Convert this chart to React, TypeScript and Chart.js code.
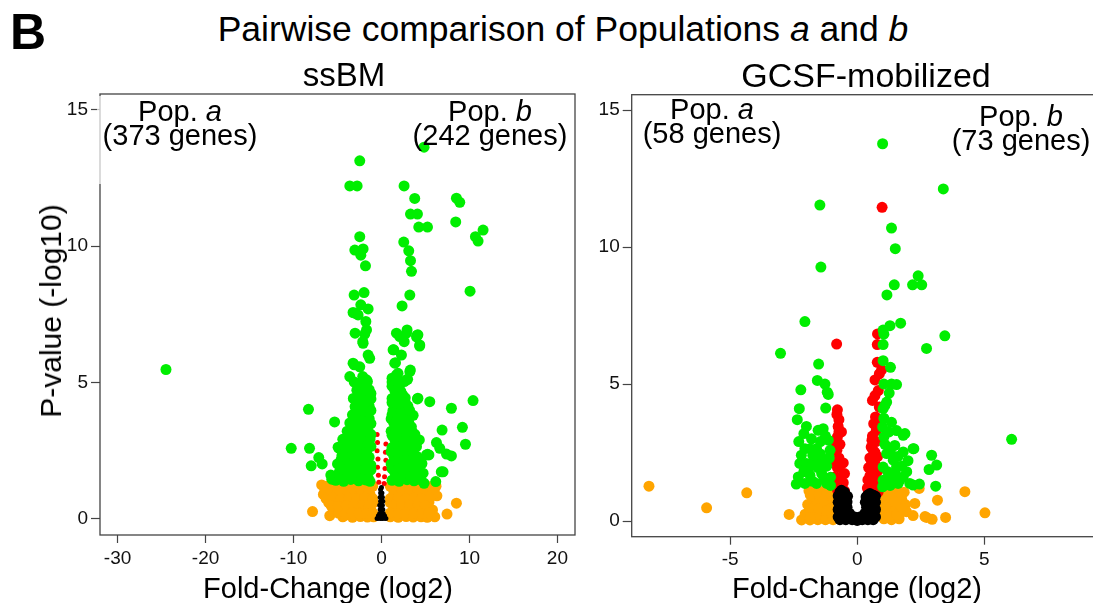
import React, { useEffect, useRef } from "react";
import { Chart, registerables } from "chart.js";

Chart.register(...registerables);

type Pt = [number, number];

const FONT = '"Liberation Sans", Arial, Helvetica, sans-serif';

// ---------- axis ticks ----------
const ssbmXTicks = [-30, -20, -10, 0, 10, 20];
const gcsfXTicks = [-5, 0, 5];
const yTickValues = [0, 5, 10, 15];

// ---------- ssBM panel (log2 fold change, -log10 p) ----------
const ssbmGreen: Pt[] = [
  [-24.5, 5.48],
  [-2.47, 13.13], [-3.6, 12.21], [-2.77, 12.21], [2.57, 12.21], [3.78, 11.75], [3.3, 11.18], [4.09, 11.18],
  [4.24, 10.7], [5.23, 10.7], [8.52, 11.76], [8.9, 11.61], [8.44, 10.89], [11.55, 10.59], [10.68, 10.35],
  [10.98, 10.19], [10.07, 8.35], [4.84, 13.63],
  [-2.47, 10.35], [-3.03, 9.86], [-2.09, 9.9], [-2.35, 9.67], [-1.82, 9.28],
  [2.53, 10.15], [3.1, 9.83], [3.3, 9.47], [3.41, 9.08], [3.22, 8.21], [2.34, 7.81],
  [-3.11, 8.21], [-1.98, 8.3], [-2.35, 7.85], [-1.52, 7.7], [-3.23, 7.57], [-2.66, 7.48], [-1.78, 7.24],
  [-1.7, 6.93], [-3.0, 6.81], [-1.9, 6.78], [-2.98, 7.54],
  [2.08, 6.69], [2.91, 6.93], [4.05, 6.74], [1.7, 6.81], [2.84, 6.81], [3.98, 6.68], [4.35, 6.38], [1.32, 6.2],
  [2.27, 6.01], [1.51, 5.71], [3.22, 5.4], [1.7, 5.28], [2.84, 5.1], [2.58, 6.5], [1.4, 6.2], [1.59, 5.73],
  [1.88, 5.34], [3.28, 5.46], [2.97, 5.12], [1.2, 5.16], [1.59, 4.79],
  [-2.09, 6.44], [-1.52, 6.01], [-3.23, 5.71], [-2.47, 5.58], [-3.6, 5.22], [-1.7, 5.1], [-1.34, 5.89],
  [-3.1, 5.65], [-2.13, 5.22], [-2.13, 6.5],
  [-8.3, 4.02], [-5.33, 3.56], [-10.26, 2.59], [-8.18, 2.59], [-7.13, 2.25], [-6.74, 2.02], [-7.99, 1.95],
  [-4.93, 2.63], [-5.76, 1.61], [-5.65, 1.46], [-4.78, 2.59],
  [5.49, 4.3], [4.09, 4.4], [7.95, 4.06], [10.41, 4.34], [6.89, 3.26], [9.2, 3.36], [9.55, 2.74], [6.25, 2.8],
  [6.63, 2.59], [7.95, 2.31], [7.39, 2.38], [7.0, 1.73], [6.17, 1.37], [3.98, 2.65], [5.11, 2.35], [4.16, 1.92],
  [4.73, 1.68], [5.39, 2.35], [4.84, 1.31], [5.24, 2.37], [6.8, 1.73], [4.14, 4.43], [4.34, 6.34], [4.14, 6.75],
  // dense left stream
  [-5.2, 1.42], [-4.3, 1.38], [-3.5, 1.45], [-2.6, 1.4], [-1.8, 1.43], [-1.3, 1.38],
  [-4.8, 1.72], [-3.9, 1.68], [-3.1, 1.75], [-2.2, 1.7], [-1.5, 1.73],
  [-5.0, 2.02], [-4.2, 1.98], [-3.4, 2.05], [-2.7, 2.0], [-1.9, 2.03], [-1.2, 1.97],
  [-4.5, 2.32], [-3.7, 2.28], [-2.9, 2.34], [-2.1, 2.3], [-1.4, 2.27],
  [-4.1, 2.62], [-3.3, 2.58], [-2.5, 2.64], [-1.7, 2.6], [-1.2, 2.66],
  [-4.4, 2.92], [-3.6, 2.88], [-2.8, 2.95], [-2.0, 2.9], [-1.3, 2.93],
  [-3.9, 3.22], [-3.1, 3.18], [-2.3, 3.24], [-1.5, 3.2],
  [-3.6, 3.52], [-2.7, 3.48], [-1.9, 3.55], [-1.2, 3.5],
  [-3.3, 3.82], [-2.5, 3.78], [-1.6, 3.84],
  [-3.0, 4.12], [-2.2, 4.08], [-1.4, 4.14],
  [-3.2, 4.42], [-2.4, 4.38], [-1.7, 4.45], [-1.2, 4.4],
  [-2.8, 4.72], [-2.0, 4.68], [-1.4, 4.74],
  [-3.1, 5.02], [-2.3, 4.98], [-1.6, 5.04],
  [-4.7, 1.55], [-3.9, 1.52], [-3.0, 1.58], [-2.2, 1.55], [-1.5, 1.5],
  [-4.5, 1.85], [-3.6, 1.88], [-2.7, 1.85], [-1.9, 1.82], [-1.2, 1.8],
  [-4.6, 2.17], [-3.8, 2.15], [-3.0, 2.18], [-2.3, 2.15], [-1.6, 2.12],
  [-4.1, 2.47], [-3.2, 2.45], [-2.4, 2.5], [-1.7, 2.45],
  [-3.8, 2.78], [-2.9, 2.75], [-2.2, 2.8], [-1.5, 2.77],
  [-3.5, 3.07], [-2.6, 3.05], [-1.8, 3.08], [-1.2, 3.1],
  [-3.2, 3.37], [-2.4, 3.35], [-1.6, 3.38],
  [-2.9, 3.67], [-2.1, 3.65], [-1.4, 3.68],
  [-2.8, 3.97], [-1.9, 3.95], [-1.2, 3.98],
  [-2.6, 4.27], [-1.9, 4.25],
  [-2.5, 4.57], [-1.7, 4.55], [-1.2, 4.6],
  [-2.6, 4.87], [-1.8, 4.85],
  // dense right stream
  [1.2, 1.42], [2.0, 1.38], [2.9, 1.44], [3.7, 1.4], [4.5, 1.43],
  [1.5, 1.72], [2.4, 1.68], [3.3, 1.74], [4.1, 1.7],
  [1.1, 2.02], [1.9, 1.98], [2.8, 2.04], [3.6, 2.0], [4.6, 2.03],
  [1.4, 2.32], [2.3, 2.28], [3.2, 2.34], [4.0, 2.3],
  [1.2, 2.62], [2.0, 2.58], [2.9, 2.64], [3.5, 2.6],
  [1.5, 2.92], [2.4, 2.88], [3.2, 2.94], [4.3, 2.9],
  [1.1, 3.22], [1.9, 3.18], [2.7, 3.24], [3.5, 3.2],
  [1.4, 3.52], [2.3, 3.48], [3.1, 3.54],
  [1.2, 3.82], [2.0, 3.78], [2.8, 3.84], [3.6, 3.8],
  [1.5, 4.12], [2.3, 4.08], [3.0, 4.14],
  [1.2, 4.42], [1.9, 4.38], [2.7, 4.44],
  [1.5, 4.72], [2.2, 4.68],
  [1.2, 5.02], [1.9, 4.98], [2.6, 5.04],
  [1.6, 1.55], [2.5, 1.52], [3.3, 1.58], [4.2, 1.55],
  [1.2, 1.85], [2.0, 1.88], [2.9, 1.85], [3.8, 1.82],
  [1.5, 2.17], [2.4, 2.15], [3.3, 2.18], [4.2, 2.15],
  [1.1, 2.47], [1.9, 2.45], [2.7, 2.5], [3.6, 2.45],
  [1.6, 2.78], [2.5, 2.75], [3.3, 2.8],
  [1.2, 3.07], [2.0, 3.05], [2.9, 3.08], [3.8, 3.1],
  [1.6, 3.37], [2.6, 3.35], [3.4, 3.38],
  [1.1, 3.67], [1.8, 3.65], [2.6, 3.68],
  [1.3, 3.97], [2.2, 3.95], [3.2, 3.98],
  [1.2, 4.27], [2.0, 4.25], [2.7, 4.27],
  [1.6, 4.57], [2.4, 4.55],
  [1.2, 4.87], [2.0, 4.85],
];

const ssbmOrange: Pt[] = [
  [8.52, 0.58], [7.45, 0.18], [6.06, 0.08], [-7.84, 0.27], [-5.88, 0.12], [-3.98, 0.15], [-6.8, 1.25],
  [-6.5, 0.95], [6.2, 1.2], [6.3, 0.85],
  [-6.2, 1.2], [-5.4, 1.18], [-4.5, 1.22], [-3.6, 1.19], [-2.7, 1.21], [-1.8, 1.18], [-1.0, 1.2],
  [-6.6, 0.9], [-5.8, 0.92], [-4.9, 0.88], [-4.0, 0.91], [-3.1, 0.89], [-2.2, 0.92], [-1.3, 0.9],
  [-6.0, 0.6], [-5.1, 0.62], [-4.3, 0.58], [-3.4, 0.61], [-2.5, 0.59], [-1.6, 0.62], [-0.9, 0.6],
  [-5.5, 0.35], [-4.7, 0.33], [-3.7, 0.36], [-2.9, 0.34], [-2.0, 0.36], [-1.2, 0.33],
  [-4.4, 0.08], [-3.3, 0.06], [-2.4, 0.09], [-1.6, 0.07], [-0.9, 0.08],
  [-5.8, 1.05], [-5.0, 1.07], [-4.1, 1.04], [-3.2, 1.06], [-2.3, 1.05], [-1.4, 1.07],
  [-6.3, 0.75], [-5.5, 0.77], [-4.6, 0.74], [-3.7, 0.76], [-2.8, 0.75], [-1.9, 0.77], [-1.0, 0.75],
  [-5.7, 0.48], [-4.9, 0.47], [-4.0, 0.49], [-3.1, 0.47], [-2.2, 0.48], [-1.4, 0.47],
  [-4.9, 0.22], [-4.1, 0.2], [-3.3, 0.22], [-2.5, 0.21], [-1.7, 0.2], [-1.0, 0.22],
  [1.0, 1.2], [1.9, 1.18], [2.8, 1.21], [3.7, 1.19], [4.6, 1.22], [5.5, 1.18],
  [1.4, 0.9], [2.3, 0.92], [3.2, 0.88], [4.1, 0.91], [5.0, 0.89], [5.9, 0.92],
  [1.0, 0.6], [1.9, 0.62], [2.8, 0.58], [3.7, 0.61], [4.6, 0.59], [5.4, 0.62],
  [1.4, 0.35], [2.3, 0.33], [3.2, 0.36], [4.1, 0.34], [5.0, 0.36], [5.8, 0.33],
  [1.0, 0.08], [1.9, 0.06], [2.8, 0.09], [3.6, 0.07], [4.5, 0.08], [5.2, 0.06],
  [1.4, 1.05], [2.3, 1.07], [3.2, 1.04], [4.1, 1.06], [5.0, 1.05], [5.8, 1.07],
  [1.0, 0.75], [1.9, 0.77], [2.8, 0.74], [3.7, 0.76], [4.6, 0.75], [5.5, 0.77],
  [1.4, 0.48], [2.3, 0.47], [3.2, 0.49], [4.1, 0.47], [5.0, 0.48],
  [1.0, 0.22], [1.9, 0.2], [2.8, 0.22], [3.7, 0.21], [4.6, 0.2], [5.4, 0.22],
];

const ssbmRed: Pt[] = [
  [-0.5, 3.1], [-0.45, 2.8], [-0.5, 2.5], [-0.4, 2.2], [-0.45, 1.9], [-0.35, 1.6], [-0.3, 1.35],
  [0.5, 2.75], [0.45, 2.45], [0.5, 2.15], [0.4, 1.85], [0.35, 1.55], [0.3, 1.3],
];

const ssbmBlack: Pt[] = [
  [-0.5, 0.02], [-0.3, 0.03], [-0.1, 0.02], [0.1, 0.02], [0.3, 0.03], [0.5, 0.02],
  [-0.35, 0.12], [0.35, 0.12], [-0.2, 0.2], [0.0, 0.1], [0.2, 0.2], [-0.15, 0.35], [0.15, 0.35],
  [0.0, 0.3], [-0.2, 0.5], [0.1, 0.5], [-0.05, 0.45], [-0.1, 0.65], [0.15, 0.65], [-0.15, 0.8],
  [0.1, 0.8], [-0.1, 0.95], [0.05, 0.95], [-0.1, 1.08], [0.0, 1.15],
];

// ---------- GCSF-mobilized panel ----------
const gcsfGreen: Pt[] = [
  [1.0, 13.77], [3.39, 12.12], [-1.47, 11.53], [1.35, 10.69], [1.5, 9.94], [-1.43, 9.27], [2.4, 8.95],
  [2.18, 8.62], [2.54, 8.62], [1.46, 8.62], [1.17, 8.25], [-2.06, 7.28], [1.29, 7.13], [1.71, 7.22],
  [1.02, 6.97], [-3.02, 6.12], [3.45, 6.76], [2.73, 6.3], [1.05, 6.82], [1.02, 6.44], [-1.52, 5.73],
  [1.02, 5.85], [1.31, 5.61], [1.05, 5.0], [1.35, 5.0], [1.55, 4.98], [1.26, 4.67], [1.16, 4.34],
  [1.02, 4.1], [-1.57, 5.13], [-1.27, 5.0], [-1.18, 4.7], [-2.22, 4.79], [-2.28, 4.1], [-2.36, 3.7],
  [-1.24, 4.12], [-2.0, 3.45], [-2.1, 3.19], [-1.54, 3.31], [-1.34, 3.37], [6.08, 2.98], [-1.14, 4.62],
  [-1.14, 2.95], [-1.07, 2.58], [-2.06, 2.64], [-1.86, 2.64], [-1.6, 2.64], [-2.26, 2.1], [-2.0, 2.1],
  [-1.67, 2.22], [-1.34, 2.22], [-2.32, 1.61], [-1.86, 1.67], [-1.4, 1.73], [-2.06, 1.37], [-1.6, 1.37],
  [-1.2, 1.37], [-1.8, 3.0], [-1.45, 2.9], [-2.2, 2.4], [-1.2, 2.0], [-1.55, 1.95], [-1.9, 1.95],
  [-2.1, 1.8], [-1.3, 1.55], [-1.75, 1.45], [-1.05, 1.6], [-2.3, 2.9], [-1.25, 3.1], [-1.75, 2.4],
  [-1.45, 2.45], [-1.1, 2.3], [-2.4, 1.35], [-1.05, 1.3],
  [1.0, 3.43], [1.05, 3.07], [1.48, 2.76], [1.81, 3.13], [1.88, 3.19], [2.2, 2.64], [1.81, 2.52],
  [1.16, 2.46], [1.42, 2.22], [1.02, 1.97], [1.55, 1.97], [1.35, 1.61], [1.81, 1.61], [1.02, 1.49],
  [1.61, 1.37], [2.07, 1.37], [2.2, 1.31], [2.93, 2.4], [3.13, 2.04], [2.83, 1.88], [3.09, 1.27],
  [1.68, 1.49], [1.09, 4.22], [1.09, 2.8], [1.3, 2.55], [1.6, 2.35], [1.2, 1.8], [1.5, 1.75], [1.0, 1.25],
  [1.3, 1.3], [1.75, 2.0], [1.25, 3.25], [1.35, 3.6], [1.05, 3.75], [1.55, 3.3], [2.0, 2.2], [2.45, 1.35],
  [1.95, 1.8], [2.23, 2.64],
];

const gcsfOrange: Pt[] = [
  [-8.2, 1.27], [-5.93, 0.48], [-4.35, 1.03], [-2.68, 0.24], [-2.19, 0.04], [-1.86, 0.04], [4.24, 1.07],
  [5.03, 0.3], [3.48, 0.13], [3.16, 0.76], [2.44, 1.19], [2.73, 0.13], [2.95, 0.06], [2.27, 0.64],
  [1.94, 0.34], [2.67, 0.16], [2.2, 0.2],
  [-1.9, 1.1], [-1.6, 1.1], [-1.3, 1.1], [-1.05, 1.1], [-1.75, 0.85], [-1.45, 0.85], [-1.15, 0.85],
  [-0.95, 0.7], [-1.95, 0.6], [-1.6, 0.6], [-1.3, 0.55], [-1.05, 0.45], [-1.7, 0.3], [-1.4, 0.3],
  [-1.1, 0.2], [-1.55, 0.05], [-1.25, 0.05], [-0.95, 0.05], [-2.05, 0.25],
  [-1.85, 0.95], [-1.5, 0.98], [-1.2, 0.98], [-1.85, 0.45], [-1.5, 0.45], [-1.2, 0.38], [-1.85, 0.12],
  [-1.3, 0.75], [-1.0, 0.9],
  [1.0, 1.1], [1.3, 1.1], [1.6, 1.1], [1.85, 1.05], [1.15, 0.85], [1.45, 0.85], [1.75, 0.8], [0.95, 0.65],
  [1.25, 0.6], [1.55, 0.55], [1.0, 0.35], [1.35, 0.35], [1.7, 0.3], [1.05, 0.08], [1.35, 0.05],
  [1.65, 0.08], [1.9, 0.6],
  [1.15, 0.98], [1.45, 0.98], [1.75, 0.98], [1.25, 0.2], [1.55, 0.22], [1.8, 0.45], [1.1, 0.5], [1.5, 0.7],
];

const gcsfRed: Pt[] = [
  [0.98, 11.45], [-0.81, 6.46], [0.8, 6.83], [0.79, 6.44], [0.79, 5.79], [0.96, 5.52], [0.87, 5.37],
  [0.7, 5.15], [0.83, 4.76], [0.7, 4.58], [0.6, 4.4], [0.87, 4.16],
  [-0.78, 4.06], [-0.8, 3.89], [-0.72, 3.7], [-0.75, 3.45], [-0.78, 3.07], [-0.62, 3.25], [-0.8, 2.58],
  [-0.68, 2.8], [-0.72, 2.3], [-0.55, 2.12], [-0.78, 1.95], [-0.5, 1.73], [-0.65, 1.6], [-0.55, 1.4],
  [-0.78, 1.35], [-0.6, 1.2], [-0.78, 1.15], [-0.5, 1.1],
  [-0.9, 1.6], [-0.88, 2.1], [-0.68, 2.05], [-0.62, 1.35], [-0.85, 2.8], [-0.72, 3.25],
  [0.72, 3.8], [0.65, 3.55], [0.75, 3.3], [0.6, 3.1], [0.74, 2.9], [0.55, 2.7], [0.7, 2.5], [0.5, 2.3],
  [0.68, 2.2], [0.75, 2.0], [0.45, 1.95], [0.6, 1.8], [0.72, 1.65], [0.42, 1.5], [0.6, 1.4], [0.75, 1.3],
  [0.4, 1.2], [0.55, 1.15], [0.7, 1.1], [0.62, 2.6],
  [0.5, 1.3], [0.5, 1.65], [0.8, 1.5], [0.82, 1.85], [0.55, 2.05], [0.8, 2.35], [0.45, 1.05], [0.65, 1.0],
  [0.82, 1.05], [0.58, 2.95], [0.75, 3.6],
];

const gcsfBlack: Pt[] = [
  [-0.68, 0.05], [-0.45, 0.05], [-0.2, 0.05], [0.0, 0.02], [0.2, 0.05], [0.42, 0.05], [0.63, 0.05],
  [-0.68, 0.3], [-0.5, 0.3], [-0.3, 0.28], [0.3, 0.28], [0.45, 0.3], [0.63, 0.3],
  [-0.68, 0.55], [-0.5, 0.55], [-0.4, 0.5], [0.37, 0.5], [0.5, 0.55], [0.63, 0.55],
  [-0.68, 0.8], [-0.48, 0.8], [0.4, 0.75], [0.6, 0.8],
  [-0.68, 1.05], [-0.5, 1.05], [0.42, 0.95], [0.62, 0.95], [-0.1, 0.15], [0.1, 0.15],
  [-0.75, 0.15], [-0.6, 0.18], [-0.35, 0.15], [-0.75, 0.42], [-0.58, 0.42], [-0.75, 0.68], [-0.58, 0.68],
  [-0.4, 0.7], [-0.75, 0.92], [-0.58, 0.92], [-0.38, 0.9], [-0.62, 1.12], [0.3, 0.15], [0.55, 0.18],
  [0.72, 0.15], [0.55, 0.42], [0.72, 0.42], [0.32, 0.68], [0.72, 0.68], [0.5, 0.7], [0.72, 0.9],
  [0.35, 0.88], [0.5, 1.0], [-0.25, 0.18], [0.25, 0.18],
];

const GREEN = "#00ee00";
const ORANGE = "#ffa500";
const RED = "#ff0000";
const BLACK = "#000000";
const AXIS = "#444444";

interface PanelSpec {
  green: Pt[];
  orange: Pt[];
  red: Pt[];
  black: Pt[];
  xMin: number;
  xMax: number;
  yMin: number;
  yMax: number;
  xTicks: number[];
  yAxisWidth: number;
  xAxisHeight: number;
  padTop: number;
  padRight: number;
  bigR: number;
  smallR: number;
  width: number;
  height: number;
  left: number;
  top: number;
}

const boxPlugin = {
  id: "plotBox",
  afterDraw(chart: any) {
    const { ctx, chartArea: a } = chart;
    ctx.save();
    ctx.strokeStyle = AXIS;
    ctx.lineWidth = 1.3;
    ctx.strokeRect(a.left, a.top, a.right - a.left, a.bottom - a.top);
    ctx.restore();
  },
};

function toXY(arr: Pt[]) {
  return arr.map(([x, y]) => ({ x, y }));
}

function Panel({ spec }: { spec: PanelSpec }) {
  const ref = useRef<HTMLCanvasElement | null>(null);
  useEffect(() => {
    if (!ref.current) return;
    const mk = (label: string, data: Pt[], color: string, r: number) => ({
      label,
      data: toXY(data),
      backgroundColor: color,
      borderWidth: 0,
      pointRadius: r,
      pointHoverRadius: r,
      pointBorderWidth: 0,
    });
    const tickFont = { family: FONT, size: 19 };
    const chart = new Chart(ref.current, {
      type: "scatter",
      data: {
        datasets: [
          mk("significant", spec.green, GREEN, spec.bigR),
          mk("not significant", spec.black, BLACK, spec.smallR),
          mk("p only", spec.red, RED, spec.smallR),
          mk("fold only", spec.orange, ORANGE, spec.bigR),
        ],
      },
      options: {
        responsive: false,
        animation: false,
        events: [],
        layout: { padding: { left: 0, top: spec.padTop, right: spec.padRight, bottom: 0 } },
        plugins: { legend: { display: false }, tooltip: { enabled: false }, title: { display: false } },
        scales: {
          x: {
            type: "linear",
            min: spec.xMin,
            max: spec.xMax,
            afterBuildTicks: (s: any) => {
              s.ticks = spec.xTicks.map((v) => ({ value: v }));
            },
            afterFit: (s: any) => {
              s.height = spec.xAxisHeight;
            },
            grid: { display: true, drawOnChartArea: false, drawTicks: true, tickLength: 8, tickColor: AXIS, tickWidth: 1.2 },
            border: { display: false },
            ticks: {
              color: "#111",
              font: tickFont,
              padding: 4,
              maxRotation: 0,
              autoSkip: false,
              callback: (v: any) => String(v),
            },
          },
          y: {
            type: "linear",
            min: spec.yMin,
            max: spec.yMax,
            afterBuildTicks: (s: any) => {
              s.ticks = yTickValues.map((v) => ({ value: v }));
            },
            afterFit: (s: any) => {
              s.width = spec.yAxisWidth;
            },
            grid: { display: true, drawOnChartArea: false, drawTicks: true, tickLength: 9, tickColor: AXIS, tickWidth: 1.2 },
            border: { display: false },
            ticks: {
              color: "#111",
              font: tickFont,
              padding: 3,
              autoSkip: false,
              callback: (v: any) => String(v),
            },
          },
        },
      },
      plugins: [boxPlugin],
    } as any);
    return () => chart.destroy();
  }, [spec]);
  return (
    <canvas
      ref={ref}
      width={spec.width}
      height={spec.height}
      style={{ position: "absolute", left: spec.left, top: spec.top, width: spec.width, height: spec.height }}
    />
  );
}

const leftSpec: PanelSpec = {
  green: ssbmGreen,
  orange: ssbmOrange,
  red: ssbmRed,
  black: ssbmBlack,
  xMin: -32,
  xMax: 22,
  yMin: -0.587,
  yMax: 15.58,
  xTicks: ssbmXTicks,
  yAxisWidth: 100,
  xAxisHeight: 68,
  padTop: 34,
  padRight: 15,
  bigR: 5.5,
  smallR: 2.5,
  width: 590,
  height: 543,
  left: 0,
  top: 60,
};

const rightSpec: PanelSpec = {
  green: gcsfGreen,
  orange: gcsfOrange,
  red: gcsfRed,
  black: gcsfBlack,
  xMin: -8.88,
  xMax: 9.6,
  yMin: -0.573,
  yMax: 15.56,
  xTicks: gcsfXTicks,
  yAxisWidth: 41.7,
  xAxisHeight: 66.3,
  padTop: 34.7,
  padRight: 15,
  bigR: 5.5,
  smallR: 5.5,
  width: 526,
  height: 543,
  left: 590,
  top: 60,
};

const txt: React.CSSProperties = {
  position: "absolute",
  fontFamily: FONT,
  color: "#000",
  whiteSpace: "nowrap",
  lineHeight: 1,
};

function PopLabel({ cx, top, pop, genes }: { cx: number; top: number; pop: string; genes: string }) {
  return (
    <div style={{ ...txt, left: cx, top, transform: "translateX(-50%)", fontSize: 29, lineHeight: "24px", textAlign: "center" }}>
      <div>
        Pop. <i>{pop}</i>
      </div>
      <div>{genes}</div>
    </div>
  );
}

export default function App() {
  return (
    <div
      style={{
        position: "absolute",
        left: 0,
        top: 0,
        width: 1093,
        height: 603,
        overflow: "hidden",
        background: "#fff",
      }}
    >
      <Panel spec={leftSpec} />
      <Panel spec={rightSpec} />
      <div style={{ ...txt, left: 10, top: 7, fontSize: 50, fontWeight: "bold" }}>B</div>
      <div style={{ ...txt, left: 563, top: 12, fontSize: 35.5, transform: "translateX(-50%)" }}>
        Pairwise comparison of Populations <i>a</i> and <i>b</i>
      </div>
      <div style={{ ...txt, left: 344, top: 58, fontSize: 33, transform: "translateX(-50%)" }}>ssBM</div>
      <div style={{ ...txt, left: 866, top: 58, fontSize: 34, transform: "translateX(-50%)" }}>GCSF-mobilized</div>
      <div style={{ position: "absolute", left: 97, top: 96, width: 5, height: 88, background: "rgba(255,255,255,0.7)" }} />
      <PopLabel cx={180} top={99} pop="a" genes="(373 genes)" />
      <PopLabel cx={490} top={99} pop="b" genes="(242 genes)" />
      <PopLabel cx={712} top={97} pop="a" genes="(58 genes)" />
      <PopLabel cx={1021} top={104} pop="b" genes="(73 genes)" />
      <div style={{ ...txt, left: 328, top: 574, fontSize: 29, transform: "translateX(-50%)" }}>Fold-Change (log2)</div>
      <div style={{ ...txt, left: 857, top: 574, fontSize: 29, transform: "translateX(-50%)" }}>Fold-Change (log2)</div>
      <div
        style={{
          ...txt,
          left: 51,
          top: 311,
          fontSize: 30,
          transform: "translate(-50%, -50%) rotate(-90deg)",
        }}
      >
        P-value (-log10)
      </div>
    </div>
  );
}
